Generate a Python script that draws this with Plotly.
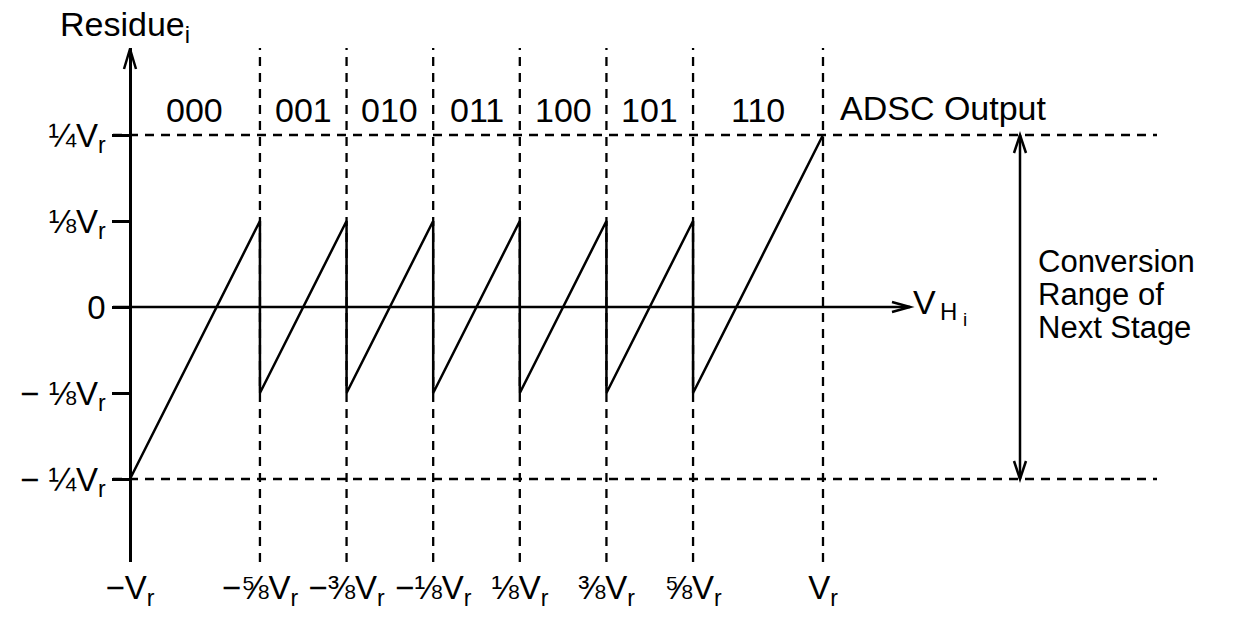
import plotly.graph_objects as go

# ---- data (in units of Vr) ----
boundaries = [-1.0, -0.625, -0.375, -0.125, 0.125, 0.375, 0.625, 1.0]
boundary_labels = ["−V<sub>r</sub>", "−⅝V<sub>r</sub>", "−⅜V<sub>r</sub>", "−⅛V<sub>r</sub>",
                   "⅛V<sub>r</sub>", "⅜V<sub>r</sub>", "⅝V<sub>r</sub>", "V<sub>r</sub>"]
codes = ["000", "001", "010", "011", "100", "101", "110"]
residue_levels = [0.25, 0.125, 0.0, -0.125, -0.25]
residue_labels = ["¼V<sub>r</sub>", "⅛V<sub>r</sub>", "0", "− ⅛V<sub>r</sub>", "− ¼V<sub>r</sub>"]
# sawtooth residue curve
saw_x = [-1.0, -0.625, -0.625, -0.375, -0.375, -0.125, -0.125, 0.125, 0.125,
         0.375, 0.375, 0.625, 0.625, 1.0]
saw_y = [-0.25, 0.125, -0.125, 0.125, -0.125, 0.125, -0.125, 0.125, -0.125,
         0.125, -0.125, 0.125, -0.125, 0.25]

W, H = 1247, 617
X0PX, XSCALE = 130, 346.5       # pixel of x=-1, px per unit
Y0PX, YSCALE = 307, 688         # pixel of y=0, px per unit
YTOP, YBOT = 48, 562            # y domain pixels

xr = [-1 - X0PX / XSCALE, -1 + (W - X0PX) / XSCALE]
yr = [(Y0PX - YBOT) / YSCALE, (Y0PX - YTOP) / YSCALE]
pxx = 1 / XSCALE
pxy = 1 / YSCALE

FONT = "Liberation Sans, Arial, Helvetica, sans-serif"
BLK = "black"
DASH = "9px,7px"
LW = 2.5
DW = 2.3

fig = go.Figure()
fig.add_trace(go.Scatter(x=saw_x, y=saw_y, mode="lines",
                         line=dict(color=BLK, width=LW), hoverinfo="skip",
                         showlegend=False))

shapes = []
# vertical dashed lines
for b in boundaries[1:]:
    shapes.append(dict(type="line", xref="x", yref="y", x0=b, x1=b, y0=yr[0], y1=yr[1],
                       line=dict(color=BLK, width=DW, dash=DASH)))
# horizontal dashed lines at +-1/4
x_hd_end = -1 + (1157 - X0PX) / XSCALE
for lv in (residue_levels[0], residue_levels[-1]):
    shapes.append(dict(type="line", xref="x", yref="y", x0=-1 - 17 * pxx, x1=x_hd_end,
                       y0=lv, y1=lv, line=dict(color=BLK, width=DW, dash=DASH)))
# x axis line (at residue 0)
x_arrow_tip = -1 + (910 - X0PX) / XSCALE
shapes.append(dict(type="line", xref="x", yref="y", x0=-1 - 17 * pxx, x1=x_arrow_tip,
                   y0=0, y1=0, line=dict(color=BLK, width=LW)))


def chevron(tx, ty, dirx, diry, length, half):
    bx_px = -dirx * length
    by_px = -diry * length
    px_, py_ = -diry * half, dirx * half
    p1 = (tx + (bx_px + px_) * pxx, ty + (by_px + py_) * pxy)
    p2 = (tx + (bx_px - px_) * pxx, ty + (by_px - py_) * pxy)
    return f"M {p1[0]},{p1[1]} L {tx},{ty} L {p2[0]},{p2[1]}"


# y-axis arrow head (pointing up)
shapes.append(dict(type="path", xref="x", yref="y",
                   path=chevron(-1, yr[1] - 1 * pxy, 0, 1, 20, 6), line=dict(color=BLK, width=LW)))
# x-axis arrow head (pointing right)
shapes.append(dict(type="path", xref="x", yref="y",
                   path=chevron(x_arrow_tip, 0, 1, 0, 18, 5), line=dict(color=BLK, width=LW)))
# double arrow for conversion range
x_da = -1 + (1020 - X0PX) / XSCALE
shapes.append(dict(type="line", xref="x", yref="y", x0=x_da, x1=x_da,
                   y0=residue_levels[-1], y1=residue_levels[0], line=dict(color=BLK, width=LW)))
shapes.append(dict(type="path", xref="x", yref="y",
                   path=chevron(x_da, residue_levels[0], 0, 1, 18, 6), line=dict(color=BLK, width=LW)))
shapes.append(dict(type="path", xref="x", yref="y",
                   path=chevron(x_da, residue_levels[-1], 0, -1, 18, 6), line=dict(color=BLK, width=LW)))

annotations = []


def px_x(p):
    return -1 + (p - X0PX) / XSCALE


def px_y(p):
    return (Y0PX - p) / YSCALE


# code labels
for i, c in enumerate(codes):
    annotations.append(dict(x=(boundaries[i] + boundaries[i + 1]) / 2, y=px_y(110), xref="x", yref="y",
                            text=c, showarrow=False, xanchor="center", yanchor="middle",
                            font=dict(family=FONT, size=34, color=BLK)))
annotations.append(dict(x=px_x(838), y=px_y(108), xref="x", yref="y",
                        text="ADSC Output", showarrow=False, xanchor="left", yanchor="middle",
                        font=dict(family=FONT, size=34, color=BLK)))
for txt, cy in (("Conversion", 261), ("Range of", 294), ("Next Stage", 327)):
    annotations.append(dict(x=px_x(1036), y=px_y(cy), xref="x", yref="y",
                            text=txt, showarrow=False, xanchor="left", yanchor="middle",
                            font=dict(family=FONT, size=31, color=BLK)))
annotations.append(dict(x=px_x(58), y=1 - 26 / H, xref="x", yref="paper",
                        text="Residue<sub>i</sub>", showarrow=False, xanchor="left", yanchor="middle",
                        font=dict(family=FONT, size=34, color=BLK)))
annotations.append(dict(x=px_x(911), y=px_y(302), xref="x", yref="y",
                        text="V", showarrow=False, xanchor="left", yanchor="middle",
                        font=dict(family=FONT, size=34, color=BLK)))
annotations.append(dict(x=px_x(938), y=px_y(311), xref="x", yref="y",
                        text="H", showarrow=False, xanchor="left", yanchor="middle",
                        font=dict(family=FONT, size=24, color=BLK)))
annotations.append(dict(x=px_x(965), y=px_y(319), xref="x", yref="y",
                        text="i", showarrow=False, xanchor="center", yanchor="middle",
                        font=dict(family=FONT, size=19, color=BLK)))

fig.update_layout(
    width=W, height=H, autosize=False,
    margin=dict(l=0, r=0, t=0, b=0),
    paper_bgcolor="white", plot_bgcolor="white",
    showlegend=False,
    shapes=shapes, annotations=annotations,
    xaxis=dict(range=xr, domain=[0, 1], anchor="free", position=1 - YBOT / H,
               showgrid=False, zeroline=False, showline=False,
               tickmode="array", tickvals=boundaries, ticktext=boundary_labels,
               ticks="", ticklabelstandoff=3,
               tickfont=dict(family=FONT, size=33, color=BLK), fixedrange=True),
    yaxis=dict(range=yr, domain=[1 - YBOT / H, 1 - YTOP / H], anchor="free",
               position=X0PX / W, showgrid=False, zeroline=False,
               showline=True, linecolor=BLK, linewidth=LW,
               tickmode="array", tickvals=residue_levels, ticktext=residue_labels,
               ticks="outside", ticklen=17, tickwidth=LW, tickcolor=BLK,
               tickfont=dict(family=FONT, size=33, color=BLK), fixedrange=True),
)

fig.write_html("out.html", config={"displayModeBar": False},
               post_script="document.body.style.margin='0';document.body.style.overflow='hidden';")
